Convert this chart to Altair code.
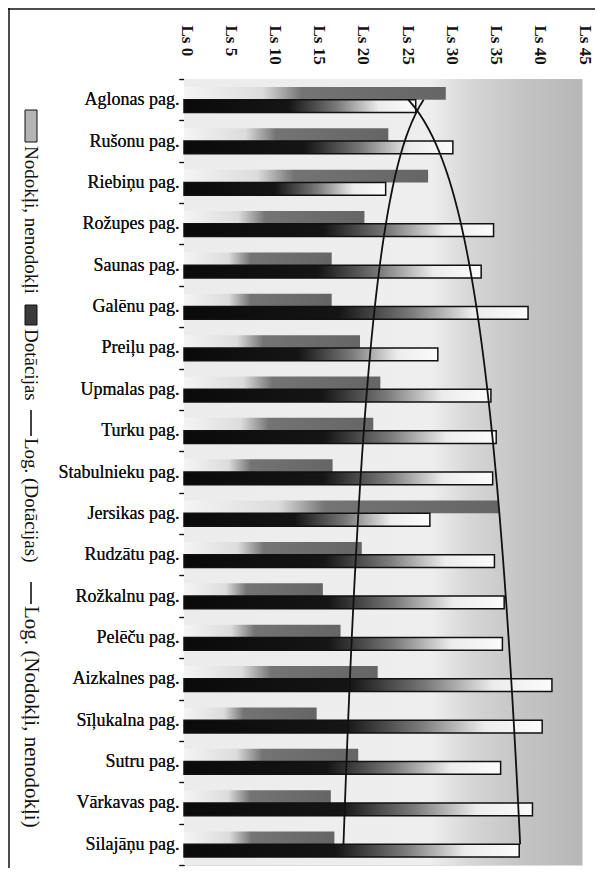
import altair as alt
import pandas as pd

categories = ["Aglonas pag.", "Rušonu pag.", "Riebiņu pag.", "Rožupes pag.", "Saunas pag.",
              "Galēnu pag.", "Preiļu pag.", "Upmalas pag.", "Turku pag.", "Stabulnieku pag.",
              "Jersikas pag.", "Rudzātu pag.", "Rožkalnu pag.", "Pelēču pag.", "Aizkalnes pag.",
              "Sīļukalna pag.", "Sutru pag.", "Vārkavas pag.", "Silajāņu pag."]
nodokli = [29.6, 23.1, 27.6, 20.4, 16.7, 16.7, 19.9, 22.2, 21.4, 16.8,
           35.6, 20.1, 15.7, 17.7, 21.9, 15.0, 19.7, 16.6, 17.0]
dotacijas = [26.2, 30.4, 22.8, 35.0, 33.6, 38.9, 28.7, 34.7, 35.3, 34.9,
             27.8, 35.1, 36.2, 36.0, 41.6, 40.5, 35.8, 39.4, 37.9]
series_names = ["Nodokļi, nenodokļi", "Dotācijas"]
x_ticks = [0, 5, 10, 15, 20, 25, 30, 35, 40, 45]

rows = []
for i, c in enumerate(categories):
    rows.append({"category": c, "idx": i + 1, "series": series_names[0], "value": nodokli[i]})
    rows.append({"category": c, "idx": i + 1, "series": series_names[1], "value": dotacijas[i]})
df = pd.DataFrame(rows)

W, H = 398, 786
FONT = "Liberation Serif"
INK = "#111111"


def grad(stops):
    return alt.Gradient(gradient="linear", x1=0, x2=1, y1=0, y2=0,
                        stops=[alt.GradientStop(offset=o, color=c) for o, c in stops])


x_enc = alt.X("value:Q", scale=alt.Scale(domain=[0, 45], nice=False, zero=True),
              axis=alt.Axis(orient="top", values=x_ticks, labelExpr="'Ls ' + datum.value",
                            labelAngle=90, labelAlign="left", labelBaseline="middle",
                            labelPadding=54, labelOffset=2, ticks=False, tickSize=0,
                            domain=False, grid=False, title=None, labelFont=FONT,
                            labelFontSize=17, labelFontWeight="bold", labelColor=INK,
                            labelOverlap=False))
y_enc = alt.Y("category:N", sort=categories,
              scale=alt.Scale(paddingInner=0, paddingOuter=0),
              axis=alt.Axis(orient="left", title=None, tickBand="extent", tickSize=5,
                            tickColor=INK, tickWidth=1.2, labelPadding=0, labelFont=FONT,
                            labelFontSize=18, labelColor=INK, domain=False, grid=False,
                            labelLimit=220))
yoff = alt.YOffset("series:N", sort=series_names,
                   scale=alt.Scale(domain=series_names, paddingInner=0, paddingOuter=0.62))

base = alt.Chart(df)

background = alt.Chart(alt.Data(values=[{}])).mark_rect(
    color=grad([(0, "#ececec"), (0.62, "#eeeeee"), (0.72, "#d6d6d6"),
                (0.85, "#c4c4c4"), (1, "#b7b7b7")])
).encode(x=alt.value(0), x2=alt.value(W), y=alt.value(0), y2=alt.value(H))

bars_up = base.transform_filter(alt.datum.series == series_names[0]).mark_bar(
    color=grad([(0, "#f4f4f4"), (0.3, "#dcdcdc"), (0.45, "#747474"), (1, "#656565")])
).encode(x=x_enc, y=y_enc, yOffset=yoff)

bars_low = base.transform_filter(alt.datum.series == series_names[1]).mark_bar(
    color=grad([(0, "#0a0a0a"), (0.45, "#151515"), (0.66, "#7a7a7a"),
                (0.84, "#ececec"), (1, "#fbfbfb")]),
    stroke="#111111", strokeWidth=1.5
).encode(x=x_enc, y=y_enc, yOffset=yoff)

lines = base.transform_regression("idx", "value", method="log", groupby=["series"]).mark_line(
    color=INK, strokeWidth=1.8
).encode(
    x=alt.X("value:Q"),
    y=alt.Y("idx:Q", scale=alt.Scale(domain=[0.5, 19.5], reverse=True, nice=False, zero=False),
            axis=None),
    detail="series:N",
    order=alt.Order("idx:Q"),
)

one = alt.Data(values=[{}])


def vtext(txt, x, y, size=19):
    return alt.Chart(one).mark_text(text=txt, angle=90, align="left", baseline="middle",
                                    font=FONT, fontSize=size, color=INK).encode(
        x=alt.value(x), y=alt.value(y))


def vrule(x, y1, y2, w=1.6):
    return alt.Chart(one).mark_rule(color=INK, strokeWidth=w).encode(
        x=alt.value(x), y=alt.value(y1), y2=alt.value(y2))


def swatch(x1, x2, y1, y2, fill):
    return alt.Chart(one).mark_rect(color=fill, stroke=INK, strokeWidth=1).encode(
        x=alt.value(x1), x2=alt.value(x2), y=alt.value(y1), y2=alt.value(y2))


legend = [
    swatch(-159, -147, 31, 63, "#b4b4b4"),
    vtext(series_names[0], -153, 67),
    swatch(-159, -147, 226, 246, "#3a3a3a"),
    vtext(series_names[1], -153, 250),
    vrule(-153, 331, 357),
    vtext("Log. (Dotācijas)", -153, 359),
    vrule(-153, 503, 525),
    vtext("Log. (Nodokļi, nenodokļi)", -153, 527, 21),
]

frame = [
    alt.Chart(one).mark_rule(color=INK, strokeWidth=1.5).encode(
        x=alt.value(-175), y=alt.value(-71), y2=alt.value(H + 3)),
    alt.Chart(one).mark_rule(color=INK, strokeWidth=1.5).encode(
        x=alt.value(-176), x2=alt.value(W + 20), y=alt.value(-70)),
]

chart = alt.layer(background, bars_up, bars_low, lines, *legend, *frame).resolve_scale(
    y="independent"
).properties(
    width=W, height=H,
    padding={"left": 176, "top": 71, "right": 13, "bottom": 3},
    autosize=alt.AutoSizeParams(type="none"),
).configure_view(stroke=INK, strokeWidth=1.5).configure(background="white")

chart.save("out.html", embed_options={"renderer": "svg", "actions": False})
